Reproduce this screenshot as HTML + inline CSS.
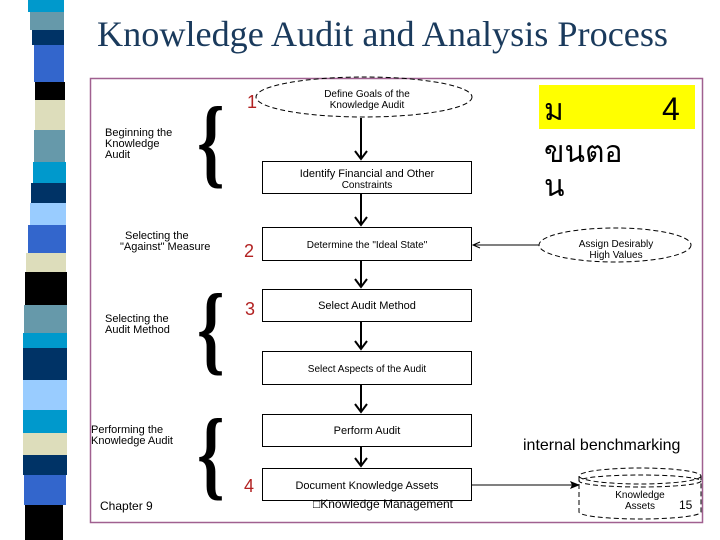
<!DOCTYPE html>
<html><head><meta charset="utf-8"><style>
html,body{margin:0;padding:0;background:#fff;}
svg{display:block;}
</style></head><body>
<svg width="720" height="540" viewBox="0 0 720 540" xmlns="http://www.w3.org/2000/svg">
<g>
<rect x="28" y="0" width="36" height="12" fill="#0099cc"/>
<rect x="30" y="12" width="34" height="18" fill="#6699aa"/>
<rect x="32" y="30" width="32" height="15" fill="#003366"/>
<rect x="34" y="45" width="30" height="37" fill="#3366cc"/>
<rect x="35" y="82" width="30" height="18" fill="#000"/>
<rect x="35" y="100" width="30" height="30" fill="#ddddbb"/>
<rect x="34" y="130" width="31" height="32" fill="#6699aa"/>
<rect x="33" y="162" width="33" height="21" fill="#0099cc"/>
<rect x="31" y="183" width="35" height="20" fill="#003366"/>
<rect x="30" y="203" width="36" height="22" fill="#99ccff"/>
<rect x="28" y="225" width="38" height="28" fill="#3366cc"/>
<rect x="26" y="253" width="40" height="19" fill="#ddddbb"/>
<rect x="25" y="272" width="42" height="33" fill="#000"/>
<rect x="24" y="305" width="43" height="28" fill="#6699aa"/>
<rect x="23" y="333" width="44" height="15" fill="#0099cc"/>
<rect x="23" y="348" width="44" height="32" fill="#003366"/>
<rect x="23" y="380" width="44" height="30" fill="#99ccff"/>
<rect x="23" y="410" width="44" height="23" fill="#0099cc"/>
<rect x="23" y="433" width="44" height="22" fill="#ddddbb"/>
<rect x="23" y="455" width="44" height="20" fill="#003366"/>
<rect x="24" y="475" width="42" height="30" fill="#3366cc"/>
<rect x="25" y="505" width="38" height="35" fill="#000"/>
</g>
<text x="97" y="46" font-family="Liberation Serif, serif" font-size="36" fill="#1a3a5c" textLength="571" lengthAdjust="spacingAndGlyphs">Knowledge Audit and Analysis Process</text>
<rect x="90.5" y="78.5" width="612" height="444" fill="none" stroke="#a06090" stroke-width="1.5"/>

<rect x="539" y="85" width="156" height="44" fill="#ffff00"/>
<text x="544" y="120" font-family="Liberation Sans, sans-serif" font-size="30" fill="#000">ม</text>
<text x="662" y="120" font-family="Liberation Sans, sans-serif" font-size="32" fill="#000">4</text>
<text x="544" y="162" font-family="Liberation Sans, sans-serif" font-size="30" fill="#000">ขนตอ</text>
<text x="544" y="196" font-family="Liberation Sans, sans-serif" font-size="30" fill="#000">น</text>

<g font-family="Liberation Sans, sans-serif" fill="#000">
<ellipse cx="364" cy="97" rx="108" ry="20" fill="none" stroke="#000" stroke-dasharray="5,3"/>
<text x="367" y="97" font-size="10" text-anchor="middle">Define Goals of the</text>
<text x="367" y="108" font-size="10" text-anchor="middle">Knowledge Audit</text>
<ellipse cx="615" cy="245" rx="76" ry="17" fill="none" stroke="#000" stroke-dasharray="5,3"/>
<text x="616" y="247" font-size="10" text-anchor="middle">Assign Desirably</text>
<text x="616" y="258" font-size="10" text-anchor="middle">High Values</text>

<g fill="#fff" stroke="#000" stroke-width="1">
<rect x="262.5" y="161.5" width="209" height="32"/>
<rect x="262.5" y="227.5" width="209" height="33"/>
<rect x="262.5" y="289.5" width="209" height="32"/>
<rect x="262.5" y="351.5" width="209" height="33"/>
<rect x="262.5" y="414.5" width="209" height="32"/>
<rect x="262.5" y="468.5" width="209" height="32"/>
</g>
<text x="367" y="177" font-size="11" text-anchor="middle">Identify Financial and Other</text>
<text x="367" y="188" font-size="10" text-anchor="middle">Constraints</text>
<text x="367" y="248" font-size="10" text-anchor="middle">Determine the "Ideal State"</text>
<text x="367" y="309" font-size="11" text-anchor="middle">Select Audit Method</text>
<text x="367" y="372" font-size="10" text-anchor="middle">Select Aspects of the Audit</text>
<text x="367" y="434" font-size="11" text-anchor="middle">Perform Audit</text>
<text x="367" y="489" font-size="11" text-anchor="middle">Document Knowledge Assets</text>

<g stroke="#000" stroke-width="2" fill="none">
<line x1="361" y1="118" x2="361" y2="158"/>
<line x1="361" y1="194" x2="361" y2="224"/>
<line x1="361" y1="261" x2="361" y2="286"/>
<line x1="361" y1="322" x2="361" y2="348"/>
<line x1="361" y1="385" x2="361" y2="411"/>
<line x1="361" y1="447" x2="361" y2="465"/>
<polyline points="355,151 361,159 367,151"/>
<polyline points="355,217 361,225 367,217"/>
<polyline points="355,279 361,287 367,279"/>
<polyline points="355,341 361,349 367,341"/>
<polyline points="355,404 361,412 367,404"/>
<polyline points="355,458 361,466 367,458"/>
</g>
<line x1="473" y1="245" x2="539" y2="245" stroke="#000"/>
<polyline points="480,242 473,245 480,248" fill="none" stroke="#000"/>
<line x1="472" y1="485" x2="572" y2="485" stroke="#000"/>
<polygon points="580,485 570,481 572,485 570,489" fill="#000"/>

<path d="M579,476 L579,512 A61,7 0 0 0 701,512 L701,476" fill="#fff" stroke="#000" stroke-dasharray="5,3"/>
<ellipse cx="640" cy="476" rx="61" ry="8" fill="#fff" stroke="#000" stroke-dasharray="5,3"/>
<ellipse cx="640" cy="481" rx="61" ry="6" fill="none" stroke="#000" stroke-dasharray="5,3"/>
<text x="640" y="498" font-size="10" text-anchor="middle">Knowledge</text>
<text x="640" y="509" font-size="10" text-anchor="middle">Assets</text>
<text x="679" y="509" font-size="12">15</text>

<text x="105" y="136" font-size="11">Beginning the</text>
<text x="105" y="147" font-size="11">Knowledge</text>
<text x="105" y="158" font-size="11">Audit</text>
<text x="125" y="239" font-size="11">Selecting the</text>
<text x="120" y="250" font-size="11">"Against" Measure</text>
<text x="105" y="322" font-size="11">Selecting the</text>
<text x="105" y="333" font-size="11">Audit Method</text>
<text x="91" y="433" font-size="11">Performing the</text>
<text x="91" y="444" font-size="11">Knowledge Audit</text>
<text x="100" y="510" font-size="12">Chapter 9</text>
<text x="313" y="508" font-size="12">□Knowledge Management</text>
<text x="523" y="450" font-size="16">internal benchmarking</text>

<g fill="#b22222" font-size="18">
<text x="247" y="108">1</text>
<text x="244" y="257">2</text>
<text x="245" y="315">3</text>
<text x="244" y="492">4</text>
</g>
<g font-family="Liberation Serif, serif" font-size="100" font-weight="bold" fill="#000">
<text x="0" y="0" transform="translate(197,175) scale(0.7,1)">{</text>
<text x="0" y="0" transform="translate(197,362) scale(0.7,1)">{</text>
<text x="0" y="0" transform="translate(197,487) scale(0.7,1)">{</text>
</g>
</g>
</svg>
</body></html>
